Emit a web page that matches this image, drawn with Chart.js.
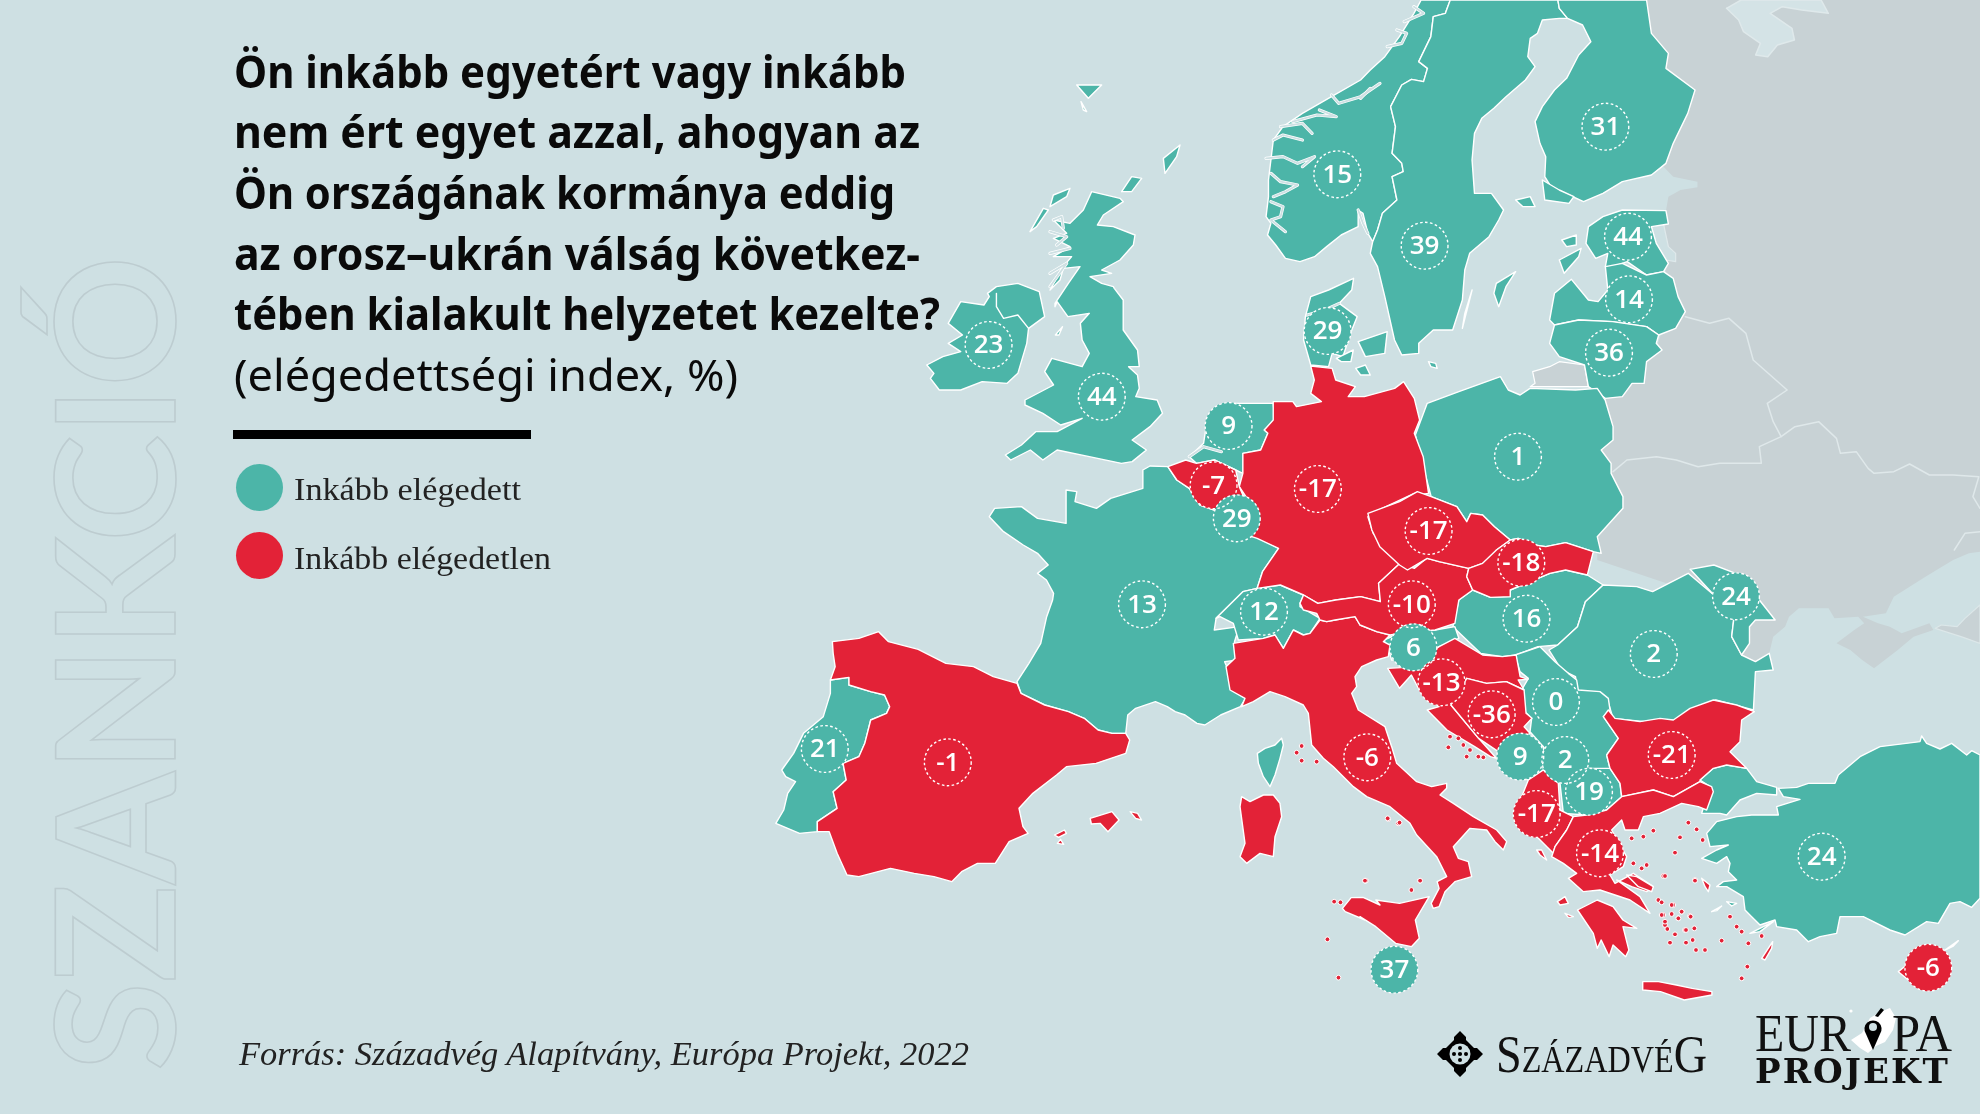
<!DOCTYPE html>
<html lang="hu"><head><meta charset="utf-8">
<script src="https://cdn.jsdelivr.net/npm/chart.js@4"></script>
<style>
html,body{margin:0;padding:0;width:1980px;height:1114px;overflow:hidden;background:#cee0e3}
#c{position:absolute;left:0;top:0;width:1980px;height:1114px}
.t{position:absolute;white-space:nowrap;transform-origin:0 0;line-height:1.2}
.title{font:700 44.5px "Noto Sans";color:#0a0a0a}
.sub{font:400 44.5px "Noto Sans";color:#0a0a0a}
.serif{font:400 36px "Liberation Serif";color:#222}
.rule{position:absolute;left:233px;top:430px;width:298px;height:9px;background:#000}
.dot{position:absolute;width:47px;height:47px;border-radius:50%}
svg{position:absolute;left:0;top:0}
</style></head><body>
<canvas id="c" width="1980" height="1114"></canvas>
<svg width="1980" height="1114" viewBox="0 0 1980 1114">
  <polygon fill="#fff" points="1851,1040 1862,1033 1870,1018 1880,1012 1890,1008 1896,1018 1893,1030 1885,1042 1876,1046 1868,1053 1860,1048"/>
  <circle cx="1851" cy="1011" r="1.6" fill="#fff"/>
  <path fill="#000" d="M1873,1050 l-7,-16 a8.6,8.6 0 1 1 14,0 z"/><circle cx="1873" cy="1027" r="4" fill="#cee0e3"/>
  <polygon fill="#000" points="1875,1016 1881,1008 1884,1010 1878,1017"/>
  <g transform="translate(1460 1054)">
    <polygon fill="#000" points="0,-23 6,-17 6,-14 14,-6 17,-6 23,0 17,6 14,6 6,14 6,17 0,23 -6,17 -6,14 -14,6 -17,6 -23,0 -17,-6 -14,-6 -6,-14 -6,-17"/>
    <circle r="10.5" fill="#cee0e3"/>
    <g fill="#000"><circle r="2.1"/><circle cx="-6" cy="0" r="2"/><circle cx="6" cy="0" r="2"/><circle cx="0" cy="-6" r="2"/><circle cx="0" cy="6" r="2"/></g>
  </g>
</svg>
<div class="t" id="wm" style="font:700 165px Lato;color:transparent;-webkit-text-stroke:1.6px #bdccd0">SZANKCIÓ</div>
<div class="t title" data-x="234" data-b="88" data-w="672">Ön inkább egyetért vagy inkább</div>
<div class="t title" data-x="234" data-b="148" data-w="686">nem ért egyet azzal, ahogyan az</div>
<div class="t title" data-x="234" data-b="209" data-w="661">Ön országának kormánya eddig</div>
<div class="t title" data-x="234" data-b="270" data-w="686">az orosz–ukrán válság következ-</div>
<div class="t title" data-x="234" data-b="330" data-w="706">tében kialakult helyzetet kezelte?</div>
<div class="t sub" data-x="234" data-b="391" data-w="504">(elégedettségi index, %)</div>
<div class="rule"></div>
<div class="dot" style="left:236px;top:464px;background:#4cb5a8"></div>
<div class="dot" style="left:236px;top:532px;background:#e32237"></div>
<div class="t serif" data-x="294" data-b="500" data-w="227" style="font-size:32px">Inkább elégedett</div>
<div class="t serif" data-x="294" data-b="568.5" data-w="257" style="font-size:32px">Inkább elégedetlen</div>
<div class="t serif" data-x="239" data-b="1065" data-w="730" style="font-style:italic;font-size:33px">Forrás: Századvég Alapítvány, Európa Projekt, 2022</div>
<div class="t serif" data-x="1496" data-b="1071.5" data-w="211" style="color:#111;font-size:37px"><span style="font-size:53px">S</span>ZÁZADVÉ<span style="font-size:53px">G</span></div>
<div class="t serif" data-x="1755" data-b="1051" data-w="96" style="color:#111;font-size:52px">EUR</div>
<div class="t serif" data-x="1892" data-b="1051" data-w="60" style="color:#111;font-size:52px">PA</div>
<div class="t" data-x="1755" data-b="1083" data-w="195" style="font:700 33px 'DejaVu Serif';letter-spacing:2px;color:#111">PROJEKT</div>
<script>
// Country balance values
const countries=["Finnország","Norvégia","Svédország","Észtország","Lettország","Litvánia","Dánia","Írország","Egyesült Királyság","Hollandia","Belgium","Luxemburg","Németország","Csehország","Ausztria","Franciaország","Svájc","Lengyelország","Szlovákia","Magyarország","Moldova","Románia","Szlovénia","Horvátország","Bosznia-Hercegovina","Szerbia","Montenegró","Koszovó","Észak-Macedónia","Bulgária","Albánia","Görögország","Olaszország","Portugália","Spanyolország","Málta","Törökország","Ciprus"];
const values=[31,15,39,44,14,36,29,23,44,9,-7,29,-17,-17,-10,13,12,1,-18,16,24,2,6,-13,-36,0,9,2,19,-21,-17,-14,-6,21,-1,37,24,-6];
const labelX=[1605.4,1337.3,1424.6,1628,1629,1609,1327.6,988.6,1101.8,1228.6,1213.6,1236.8,1317.9,1428.6,1411.8,1142,1264,1518,1521.3,1526.5,1736,1653.8,1413.4,1441.5,1491.7,1556,1520.3,1565.3,1589,1671.7,1536.7,1600,1367.3,824.8,947.8,1394.4,1821.7,1928.3];
const labelY=[126.7,174.3,245.7,236.7,299.3,352.7,331,345,396.7,426,485.3,518.3,489,531,604.3,604.3,611.7,456.7,562.7,618.7,596.3,654,647.3,682.3,714.3,702,756.7,760,791.7,755,814,853.3,757.3,749,762.3,969.7,856.7,967.7];

// Outlines are traced on crops of the picture: origin x, origin y, x scale, y scale
const sheets={A:[1220,0,2.063,3],B:[900,260,2.8,3],C:[1360,360,2.529,3],D:[760,600,2.529,3],E:[1360,700,2.529,3],F:[1020,60,3,3],G:[1220,590,3,3],H:[1440,640,3,3],I:[1660,700,3,3]};

const greyMain=[['A',[860,0,860,480,915,500,935,530,985,545,985,562,950,570,925,590,920,632,900,700,915,780,930,900,900,1050,800,1190]],['C',[620,120,600,300,600,600,850,700,945,880,1000,905,1035,880,1045,830,1075,800,1085,770,1110,745,1185,745,1200,775,1260,770,1275,790,1250,810,1205,850,1240,870,1270,900,1300,925,1360,870,1400,830,1450,810,1440,790,1370,820,1340,800,1310,790,1272,770,1330,760,1350,710,1430,650,1500,600,1540,580,1568,575,1568,0]],['A',[1568,0]]];
const greyCaucasus=[['C',[1568,735,1530,775,1510,800,1470,795,1455,805,1480,815,1520,830,1568,850]]];
const kaliningrad=[['A',[645,1115,680,1100,700,1085,752,1095,760,1160,640,1160,650,1150]]];
const lakeLadoga=[['A',[1045,25,1075,0,1240,0,1255,40,1200,30,1160,20,1135,40,1180,85,1185,120,1150,135,1130,170,1105,165,1115,130,1080,95,1070,60]]];
const lakePeipus=[['A',[890,680,915,672,925,740,940,760,940,785,920,780,900,730]]];
const greyBorders=[
 [['A',[960,950,1010,970,1050,955,1085,1000,1100,1080,1170,1170]],['C',[1030,130,1045,185,1065,230,1100,200,1160,185,1205,235,1215,280,1255,275,1285,325,1300,340,1350,335,1390,312,1440,345,1500,345,1565,350,1550,410,1568,445]]],
 [['C',[640,335,675,300,750,290,800,300,855,320,910,310,960,310,1015,310,1010,260,1065,230]]],
 [['C',[1503,570,1530,520,1568,515]]]
];

const norway=[['A',[475,0,465,40,440,50,435,110,410,185,428,205,420,245,395,238,375,255,352,320,362,380,355,460,375,490,378,515,355,530,365,600,335,640,325,690,315,725,305,700,295,640,285,630,285,680,250,705,220,740,195,770,165,785,135,775,115,735,98,705,105,670,95,650,100,590,100,540,105,480,110,420,130,380,170,340,230,290,290,240,310,210,340,170,370,110,400,40,415,0]]];
const sweden=[['A',[475,0,697,0,700,25,717,55,700,55,665,60,655,100,640,115,635,170,650,200,630,240,590,290,565,325,540,355,525,400,520,480,525,580,560,580,585,630,575,660,555,710,515,760,505,810,500,900,480,990,440,990,410,1030,410,1060,375,1065,360,1020,340,890,325,800,310,760,315,725,325,690,335,640,365,600,355,530,378,515,375,490,355,460,362,380,352,320,375,255,395,238,420,245,428,205,410,185,435,110,440,50,465,40]]];
const finland=[['A',[697,0,700,25,717,55,748,75,765,125,740,165,715,235,690,270,665,320,650,365,660,430,672,470,670,530,685,565,720,585,750,605,790,580,830,545,890,525,920,490,935,430,965,340,980,270,920,205,925,160,890,100,880,0]]];
const estonia=[['A',[760,680,790,650,830,630,920,632,925,672,890,680,900,730,925,790,915,815,880,825,840,785,810,800,795,800,800,760,775,775,755,730]]];
const latvia=[['A',[680,960,690,880,725,838,760,900,780,905,800,870,795,800,830,790,880,825,915,815,935,835,945,890,960,935,940,985,905,1005,880,980,810,965,740,960,690,975]]];
const lithuania=[['A',[690,975,740,960,810,965,880,980,905,1005,900,1030,912,1050,880,1085,875,1150,850,1150,830,1190,795,1195,760,1160,752,1095,700,1070,680,1030]]];
const poland=[['C',[140,225,170,130,250,95,355,50,375,90,405,105,430,85,545,90,600,85,620,120,640,200,640,240,610,270,635,310,635,340,665,410,665,445,600,530,610,580,590,575,520,548,470,560,440,555,400,535,380,540,340,500,310,465,280,460,270,485,245,440,180,410,160,320]]];
const germany=[['B',[1150,318,1210,325,1220,360,1275,380,1255,410,1300,410,1385,385,1410,365,1440,415,1455,480,1440,520,1465,590,1480,700,1450,705,1440,700,1320,760,1310,770,1325,820,1400,910,1340,970,1345,1025,1290,1010,1220,1020,1170,1030,1130,1005,1065,975,1000,985,1015,935,1060,865,1000,835,985,830,1000,760,950,680,960,640,960,580,1010,570,1030,520,1020,510,1045,480,1045,425,1100,425,1110,440,1180,425,1150,400,1160,360]]];
const denmark=[['B',[1270,55,1265,90,1230,130,1280,170,1265,210,1240,290,1210,280,1200,320,1150,315,1130,240,1135,170,1150,110,1200,90]]];
const zealand=[['A',[285,1025,345,995,340,1060,300,1070]]];
const funen=[['A',[240,1075,275,1050,270,1085,250,1085]]];
const lolland=[['A',[280,1105,300,1095,310,1125,290,1125]]];
const france=[['B',[700,618,750,620,775,660,810,685,840,735,880,750,1000,830,1060,865,1015,935,1000,985,960,995,885,1075,880,1110,950,1100]],['D',[1200,125,1210,180,1175,185,1195,240,1190,265,1228,295,1215,320,1165,345,1125,375,1105,370,1075,345,1050,335,1030,320,1000,305,950,325,930,345,925,400,890,400,855,390,820,355,780,335,720,315,660,280,650,245,680,190,710,130,725,50,740,0]],['B',[430,1000,410,960,385,940,415,915,385,880,345,855,290,815,250,770,265,745,340,740,385,775,465,790,465,690,495,695,490,725,550,745,590,715,680,685,680,630]]];
const corsica=[['G',[185,445,190,465,180,505,165,555,150,590,130,560,115,520,112,490,135,475,165,465]]];
const belgium=[['B',[750,620,800,600,830,610,880,600,940,630,950,680,960,705,880,750,840,735,810,685,775,660]]];
const netherlands=[['B',[810,590,850,550,860,480,940,430,1045,430,1050,480,1020,510,1030,520,1010,570,960,580,960,640,940,630,880,600,830,610]]];
const luxembourg=[['B',[950,680,1000,760,985,830,920,790,960,705]]];
const britain=[['F',[215,395,300,415,310,425,250,465,232,495,280,500,345,525,340,555,300,600,245,630,275,640,210,650,245,670,280,680]],['B',[600,85,625,120,625,210,665,270,670,320,640,320,665,345,670,385,660,410,720,420,735,460,700,500,650,540,690,570,650,605,620,610,530,590,440,570,400,600,365,570,310,600,295,585,340,555,380,515,440,515,510,475,450,495,400,460,350,435,350,420,430,375,405,335,425,295,510,320,530,280,510,240,505,190,530,160,470,170,440,125]],['F',[105,740,105,730,145,670,180,620,130,625,120,660,90,690,125,625,155,590,100,590,150,560,100,535,140,520,100,480,150,490,190,450]]];
const ireland=[['B',[75,315,120,290,170,275,135,250,175,225,135,190,170,125,235,135,250,110,245,100,270,80,330,70,390,95,405,170,360,205,355,250,330,340,300,370,230,365,170,390,110,390,85,355,95,340]]];
const isleOfMan=[['B',[435,225,455,200,445,225]]];
const lewis=[['F',[90,440,100,405,150,385,140,410]]];
const uist=[['F',[30,515,70,445,85,450,50,500]]];
const orkney=[['F',[305,395,335,350,365,355,335,395]]];
const shetland=[['F',[435,340,430,295,480,255,470,290]]];
const faroe=[['F',[170,75,245,75,205,115]]];
const faroeSouth=[['F',[183,125,200,155,190,150]]];
const portugal=[['D',[178,240,225,232,225,255,280,275,315,285,328,320,320,340,280,360,265,430,250,470,210,490,218,540,185,575,195,625,145,665,145,695,100,700,40,670,60,630,70,580,90,545,65,530,55,510,85,460,110,400,160,350,178,280]]];
const spain=[['D',[183,125,250,115,300,95,325,125,400,148,470,190,540,200,590,230,650,250,660,280,720,315,780,335,820,355,855,390,890,400,925,400,935,420,925,460,850,490,775,500,750,525,690,580,655,625,665,680,678,700,630,725,595,790,550,790,510,815,485,845,440,830,390,820,330,805,250,830,220,825,195,760,175,695,145,695,145,665,195,625,185,575,218,540,210,490,250,470,265,430,280,360,320,340,328,320,315,285,280,275,225,255,225,232,178,240,190,200,185,160]]];
const mallorca=[['D',[835,655,890,635,908,660,880,695,860,670,838,672]]];
const menorca=[['D',[936,635,955,640,965,660,950,655]]];
const ibiza=[['D',[745,705,770,690,775,700,755,712]]];
const formentera=[['D',[752,730,760,718,768,733]]];
const italy=[['G',[40,160,130,145,165,135,190,175,220,120,250,135,270,130,300,90,320,95,345,90,405,80,420,105,470,125,510,135,490,155,510,165,505,200,470,210,425,230,405,260,410,290,395,310,415,360,495,410,515,470,530,520,590,575,635,590,680,580,680,595,660,615,700,640,760,680,830,720,860,755,850,780,825,755,800,720,750,715,700,770,715,805,745,815,755,860]],['E',[240,545,215,575,200,620,185,625,180,610,200,565,195,545]],['G',[680,860,650,800,590,735,570,700,510,650,440,620,400,590,340,530,310,505,275,465,265,370,250,345,195,320,150,305,100,335,65,350,75,325,30,300,18,230,45,205]]];
const sicily=[['D',[1473,925,1495,893,1525,892,1568,915]],['E',[40,600,100,610,175,590,140,660,150,715,130,740,90,730,40,680,0,650]],['D',[1530,960,1480,935]]];
const sardinia=[['G',[65,620,90,635,130,615,160,615,180,640,185,680,165,740,160,800,120,790,80,820,60,800,75,760,60,650]]];
const austria=[['B',[1120,1030,1130,1005,1170,1030,1220,1020,1290,1010,1345,1025,1340,970,1400,910,1440,925,1480,890,1568,915]],['C',[170,595,200,605,275,625,270,650,285,690,250,720,240,790,190,810,100,820]],['G',[510,135,470,125,420,105,405,80,345,90,320,95,300,90,290,70,250,60]]];
const switzerland=[['B',[885,1075,960,995,1000,985,1065,975,1130,1005,1120,1030]],['G',[240,50,300,85,290,100,270,130,250,135,220,120,190,175,165,135,130,145,55,150,40,100,0,80]]];
const czechia=[['C',[20,460,100,425,145,395,180,410,245,440,270,485,280,460,310,465,340,500,380,540,345,570,345,600,310,610,275,625,200,605,170,595,120,630,100,615,50,560,30,510]]];
const slovakia=[['C',[275,625,310,610,345,570,380,540,400,535,440,555,470,560,520,548,590,575,575,645,520,630,480,640,380,690,380,710,330,712,285,690,270,650]]];
const hungary=[['C',[285,690,330,712,380,710,380,690,480,640,520,630,575,645,615,675,570,725,550,800,500,855,450,860,395,885,360,890,305,880,235,800,250,720]]];
const romania=[['C',[615,675,700,680,740,695,830,640,895,705,945,780,940,830,965,885,1000,905,1035,880,1045,930,1000,935,995,1050,900,1020,840,1045,800,1080,720,1085,640,1075,625,1015,600,1010,550,990,545,950,510,930,478,870,500,855,550,800,570,725]]];
const moldova=[['C',[835,628,895,615,950,640,1010,720,1050,780,1000,780,985,800,985,850,965,885,940,830,945,780,895,705]]];
const slovenia=[['C',[60,840,90,825,190,810,240,800,250,835,200,860,150,900,80,900,70,860]]];
const croatia=[['C',[200,860,240,835,310,885,360,890,395,885,405,950,425,958,400,960,415,990,370,965,320,970,270,955,230,1035,300,1135,345,1195,330,1190,290,1160,220,1110,170,1050,200,1040,150,990,130,945,100,985,70,925,150,920,150,900]]];
const bosnia=[['C',[270,955,320,970,370,965,415,990,420,1060,435,1075,415,1100,430,1120,350,1175,300,1135,230,1035]]];
const serbia=[['H',[225,45,300,20,345,65,385,100,410,120,415,150,480,155,505,175,510,210,490,230,535,295,500,345,510,385,445,400,380,420,310,320,270,275,275,235,255,215,245,150,265,115,240,95]]];
const montenegro=[['H',[250,290,310,320,310,390,265,420,200,390]]];
const macedonia=[['H',[360,430,445,385,510,385,540,430,545,470,500,510,440,525,370,520]]];
const albania=[['H',[265,420,310,390,355,430,360,510,400,530,380,570,345,620,340,640,295,595,260,560,225,520]]];
const corfu=[['H',[290,630,305,630,320,660,300,645]]];
const bulgaria=[['H',[490,230,505,210,525,235,600,245]],['I',[0,55,40,60,90,25,160,0,230,15,283,35,245,60,240,125,210,155,260,205,200,195,160,205,120,240]],['H',[780,425,700,470,640,450,545,470,540,430,510,385,500,345,535,295]]];
const greece=[['H',[400,530,440,525,500,510,545,470,640,450,700,470,780,425,815,440,820,455,800,510,775,500,725,490,660,520,610,530,595,570,555,570,545,540,515,570,560,650,550,680,510,705,525,730,580,700,640,740,620,755,575,740,530,720,600,770,630,820,570,780,480,750,430,755,385,715,410,700,370,670,335,650,345,620,380,570]]];
const peloponnese=[['E',[550,630,600,600,640,620,665,660,700,685,665,680,680,750,672,770,640,735,630,770,610,720,600,745,590,700]]];
const evia=[['H',[560,705,590,710,640,740,635,755,595,740]]];
const kefalonia=[['H',[352,785,375,770,385,790,360,795]]];
const zakynthos=[['H',[375,820,400,830,385,832]]];
const chios=[['I',[125,535,150,555,145,575,135,560]]];
const rhodes=[['I',[305,775,338,725,335,745,315,780]]];
const crete=[['E',[715,845,755,845,800,855,840,865,890,875,890,885,820,900,760,875,715,870]]];
const gotland=[['A',[570,850,610,815,590,860,575,920,565,880]]];
const oland=[['A',[520,870,500,985,505,940]]];
const hiiumaa=[['A',[705,720,735,705,735,735,715,740]]];
const saaremaa=[['A',[700,780,745,745,740,770,710,820]]];
const aland=[['A',[610,600,640,590,650,620,625,620]]];
const turku=[['A',[665,540,700,570,730,590,720,610,670,600]]];
const bornholm=[['A',[430,1085,445,1090,448,1105,435,1100]]];
const thrace=[['I',[125,340,150,260,120,240,160,205,200,195,260,205,290,245,350,262,350,285,290,280,240,300,200,345,180,340]]];
const anatolia=[['I',[355,265,410,262,445,250,525,250,535,225,600,170,660,140,780,125,785,108,800,130,840,147,875,130,920,165,935,152,960,165,960,595,935,622,900,605,870,610,835,670,800,665,735,705,690,690,610,650,540,650,530,700,480,710,445,725,410,690,350,680,345,660,300,675,275,650,255,630,250,590,200,560,170,560,190,545,230,540,205,515,210,490,200,470,170,490,125,475,170,450,205,435,150,440,140,400,170,365,230,350,275,345,355,345,350,320,420,298,370,290]]];
const imbros=[['I',[155,635,185,618,170,632]]];
const ikaria=[['I',[200,605,230,610,215,618]]];
const datca=[['I',[270,700,340,665,300,695]]];
const cyprusWest=[['I',[715,815,740,795,745,840]]];
const cyprusTail=[['I',[855,750,895,722,880,738]]];

const tealLands=[norway,sweden,finland,estonia,latvia,lithuania,poland,denmark,zealand,funen,lolland,france,corsica,netherlands,luxembourg,britain,ireland,isleOfMan,lewis,uist,orkney,shetland,faroe,faroeSouth,portugal,switzerland,hungary,romania,moldova,slovenia,serbia,montenegro,macedonia,thrace,anatolia,gotland,oland,hiiumaa,saaremaa,aland,turku,bornholm,imbros,ikaria,datca];
const redLands=[germany,spain,mallorca,menorca,ibiza,formentera,belgium,italy,sicily,sardinia,austria,czechia,slovakia,croatia,bosnia,albania,corfu,bulgaria,greece,peloponnese,evia,kefalonia,zakynthos,chios,rhodes,crete,cyprusWest,cyprusTail];

// White inner boundary and bright inlets
const niBorder=[['B',[270,100,270,140,290,175,330,165,360,205]]];
const fjords=[
 [['A',[95,475,130,470,160,490,195,470,170,500]]],[['A',[110,420,130,405,170,420]]],[['A',[125,380,170,370,190,400]]],[['A',[150,365,200,345,240,350,205,330]]],
 [['A',[230,285,245,310,290,290,330,250]]],[['A',[290,295,310,265]]],[['A',[105,520,125,545,160,555,135,575,110,590]]],[['A',[105,605,130,620,125,650,105,660,135,695]]],
 [['A',[345,140,375,130,385,100,365,90]]],[['A',[380,65,420,40,400,20]]],[['A',[285,630,295,670,305,700]]],
 [['F',[100,480,125,470,130,505]]],[['F',[90,515,140,530,110,555]]],[['F',[90,580,150,565]]],[['F',[90,640,140,610,90,680]]],
 [['B',[810,590,850,560,900,575]]],[['B',[1140,165,1190,150,1230,130]]]
];
// Small islands shown as dots, [sheet, coordinates]
const islandDots=[['H',[30,290,55,295,25,322,70,315,90,330,80,350,115,350,130,352,575,595,610,590,640,572,580,670,605,685,620,675,670,708,765,720,655,780,700,795,725,815,750,828,670,825,715,835,675,855,735,870]],['G',[245,468,230,488,245,512,290,515,505,687,535,700,435,872,600,872]],['E',[15,542,152,542,130,570,70,355,100,368]],['D',[1530,842,1452,905,1468,907,1435,1018,1463,1133]],['I',[85,368,110,388,60,412,128,420,45,458,15,528,105,542,5,607,35,615,65,635,92,650,35,642,5,645,15,665,55,655,22,687,45,703,78,690,103,685,30,728,78,728,98,720,108,750,135,750,185,722,210,650,230,680,245,695,305,708,265,730,262,800,245,835]]];

const TEAL='#4cb5a8',RED='#e32237',GREY='#c8d2d5',SEA='#cee0e3';
const project=parts=>parts.flatMap(([s,f])=>{const [ox,oy,fx,fy]=sheets[s];const o=[];for(let i=0;i<f.length;i+=2)o.push({x:ox+f[i]/fx,y:oy+f[i+1]/fy});return o;});
const closed=parts=>{const p=project(parts);p.push(p[0]);return p;};
const base={showLine:true,pointRadius:0,pointHoverRadius:0,tension:0,borderJoinStyle:'round',borderCapStyle:'round'};
const land=(parts,fill,stroke,w)=>({...base,data:closed(parts),fill:'shape',backgroundColor:fill,borderColor:stroke,borderWidth:w});
const path=(parts,stroke,w)=>({...base,data:project(parts),fill:false,borderColor:stroke,borderWidth:w});

const datasets=[
 land(greyMain,GREY,GREY,0),land(greyCaucasus,GREY,'#dce7e9',1.2),land(kaliningrad,GREY,'#fff',1.2),
 land(lakeLadoga,'#d4e3e6','#dfe9eb',1.5),land(lakePeipus,SEA,'#dfe9eb',1.2),
 ...greyBorders.map(b=>path(b,'#dfe8ea',1.5)),
 ...tealLands.map(l=>land(l,TEAL,'#fff',1.4)),
 ...redLands.map(l=>land(l,RED,'#fff',1.4)),
 path(niBorder,'#fff',1.4),
 ...fjords.map(b=>path(b,'#fff',3.2)),
 ...fjords.map(b=>path(b,SEA,1.8)),
 {data:project(islandDots),showLine:false,pointRadius:2.4,pointHoverRadius:2.4,backgroundColor:RED,borderColor:'#fff',borderWidth:1},
 {label:'index',data:labelX.map((x,i)=>({x,y:labelY[i]})),showLine:false,pointRadius:23.7,pointHoverRadius:23.7,borderWidth:0,backgroundColor:values.map(v=>v<0?RED:TEAL)}
];
// Chart.js paints lower "order" on top, so later entries get lower numbers
datasets.forEach((d,i)=>{d.order=datasets.length-i;});

const bubbleText={id:'bubbleText',afterDatasetsDraw(chart){
  const ctx=chart.ctx,meta=chart.getDatasetMeta(chart.data.datasets.length-1);
  ctx.save();
  meta.data.forEach((pt,i)=>{
    ctx.beginPath();ctx.arc(pt.x,pt.y,23.4,0,Math.PI*2);
    ctx.setLineDash([2.6,2.4]);ctx.lineWidth=1.4;ctx.strokeStyle='#fff';ctx.stroke();
    ctx.setLineDash([]);ctx.fillStyle='#fff';ctx.font='600 26px "Open Sans"';ctx.textAlign='center';ctx.textBaseline='middle';
    ctx.fillText(String(values[i]),pt.x,pt.y+1);
  });
  ctx.restore();
}};

function strutOffset(el){
  const s=document.createElement('span');s.style.cssText='display:inline-block;width:0;height:0';
  el.style.transform='none';el.style.top='0px';el.appendChild(s);
  const off=s.getBoundingClientRect().bottom-el.getBoundingClientRect().top;el.removeChild(s);return off;
}
function place(){
  document.querySelectorAll('[data-x]').forEach(el=>{
    const off=strutOffset(el);el.style.left=el.dataset.x+'px';
    el.style.top=(+el.dataset.b-off)+'px';
    el.style.transform='scaleX('+(+el.dataset.w/el.getBoundingClientRect().width)+')';
  });
  const wm=document.getElementById('wm');
  const off=strutOffset(wm);
  const k=815/wm.getBoundingClientRect().width;
  wm.style.left='175px';wm.style.top=(1071-off)+'px';wm.style.transformOrigin='0 '+off+'px';wm.style.transform='rotate(-90deg) scaleX('+k+')';
}
place();
if(document.fonts&&document.fonts.ready)document.fonts.ready.then(place);

new Chart(document.getElementById('c'),{type:'scatter',data:{datasets},plugins:[bubbleText],options:{
  responsive:false,animation:false,devicePixelRatio:1,events:[],
  layout:{padding:0,autoPadding:false},
  plugins:{legend:{display:false},tooltip:{enabled:false},title:{display:false}},
  elements:{line:{capBezierPoints:false}},
  scales:{x:{type:'linear',display:false,min:0,max:1980},y:{type:'linear',display:false,min:0,max:1114,reverse:true}}
}});
</script>
</body></html>
